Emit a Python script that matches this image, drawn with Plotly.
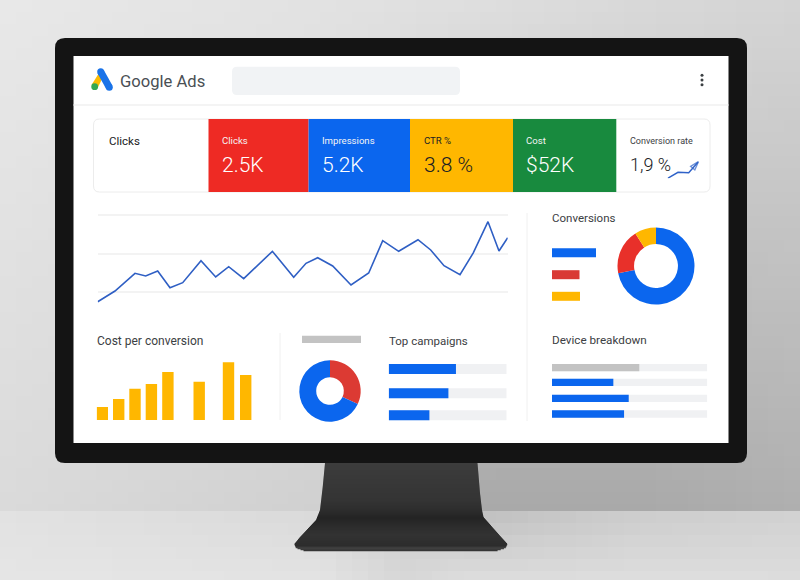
import plotly.graph_objects as go

W, H = 800, 580
FONT = "Roboto"
BLUE = "#0b66ee"
RED = "#e5312c"
YELLOW = "#ffb700"
GREEN = "#188a3e"
TRACK = "#f0f1f3"
GREY = "#c3c3c3"

# main line chart
line_x = [0, 17.3, 37.3, 48, 60, 72.3, 85, 103.3, 118, 131, 146, 174.7, 196, 208.3,
          220, 235, 253.3, 271, 285, 301, 320.3, 333, 346.3, 362.3, 375.7, 390.3, 401.3, 410]
line_y = [11.3, 22, 39.7, 37, 42, 25.3, 30.3, 52.3, 36, 46.3, 34.3, 61.7, 35.7, 49.7,
          55.3, 47, 28, 40, 72.3, 61.7, 73.3, 63, 47.3, 38.3, 60.3, 91.3, 62, 75.3]
line_ticks = [0, 21, 59, 98]

# cost per conversion
cost_x = [5.6, 22, 38.3, 54.7, 71.2, 102.5, 131.8, 149]
cost_y = [13, 21, 31.3, 36, 48, 38.3, 57.7, 45]

# donuts
conv_labels = ["Blue", "Red", "Yellow"]
conv_values = [72, 19, 9]
split_labels = ["Red", "Blue"]
split_values = [32, 68]

# horizontal bars
conv_rows = [7.7, 29.7, 51.3]
conv_bars = [44, 27.5, 28]
camp_rows = [9, 33.3, 55.3]
camp_values = [57, 50.6, 34.5]
device_rows = [7.7, 22.3, 38.3, 54]
device_values = [56.2, 39.5, 49.4, 46.4]

# conversion rate sparkline
spark_x = [0, 10.4, 21.1, 30.8]
spark_y = [0, 6, 5.6, 16.6]

# scorecards
card_labels = ["Clicks", "Impressions", "CTR %", "Cost"]
card_values = ["2.5K", "5.2K", "3.8 %", "$52K"]

# backdrop greys, (x, grey) stops on the rows they were picked from
wall_top = [(0, 232), (320, 226), (480, 222), (640, 216), (800, 212)]
wall_bottom = [(0, 218), (320, 208), (480, 168), (640, 168), (800, 175)]
desk_top = [(0, 226), (320, 218), (490, 194), (640, 206), (800, 210)]
desk_bottom = [(0, 230), (320, 228), (400, 216), (480, 224), (800, 222)]

# stand outline and shading, by height on the page
stand_left = [(463, 325), (487, 322.7), (510, 320), (520, 316), (537, 300), (544, 294.3), (548, 296), (551, 305)]
stand_right = [(463, 477.5), (493, 480), (510, 482), (517, 483.5), (532, 496.7), (544, 507.5), (548, 505.5), (551, 496)]
stand_grey = [(463, 60), (500, 52), (511, 44), (518, 35), (526, 44), (535, 50), (546, 44), (548, 66), (551, 50)]


def px(x):
    return x / W


def py(y):
    return 1 - y / H


def interp(stops, v):
    for (a, fa), (b, fb) in zip(stops, stops[1:]):
        if v <= b:
            return fa + (fb - fa) * (v - a) / (b - a)
    return stops[-1][1]


def grey(v):
    v = round(v)
    return f"rgb({v},{v},{v})"


def rect(x0, y0, x1, y1, color):
    return dict(type="rect", xref="paper", yref="paper", layer="below", x0=px(x0), x1=px(x1),
                y0=py(y0), y1=py(y1), fillcolor=color, line_width=0)


def rounded(x0, y0, x1, y1, r, fill, line=None):
    d = (f"M {px(x0 + r)} {py(y0)} L {px(x1 - r)} {py(y0)} Q {px(x1)} {py(y0)} {px(x1)} {py(y0 + r)} "
         f"L {px(x1)} {py(y1 - r)} Q {px(x1)} {py(y1)} {px(x1 - r)} {py(y1)} "
         f"L {px(x0 + r)} {py(y1)} Q {px(x0)} {py(y1)} {px(x0)} {py(y1 - r)} "
         f"L {px(x0)} {py(y0 + r)} Q {px(x0)} {py(y0)} {px(x0 + r)} {py(y0)} Z")
    return dict(type="path", xref="paper", yref="paper", layer="below", path=d, fillcolor=fill,
                line=dict(color=line or fill, width=1 if line else 0))


def poly(points, color):
    d = "M " + " L ".join(f"{px(x)} {py(y)}" for x, y in points) + " Z"
    return dict(type="path", xref="paper", yref="paper", layer="below", path=d, fillcolor=color, line_width=0)


def circle(cx, cy, r, color):
    return dict(type="circle", xref="paper", yref="paper", layer="below", x0=px(cx - r), x1=px(cx + r),
                y0=py(cy - r), y1=py(cy + r), fillcolor=color, line_width=0)


def seg(x0, y0, x1, y1, color, width=1):
    return dict(type="line", xref="paper", yref="paper", layer="below", x0=px(x0), x1=px(x1),
                y0=py(y0), y1=py(y1), line=dict(color=color, width=width))


def label(x, y, text, size, color="#3c4043", weight=400):
    return dict(xref="paper", yref="paper", x=px(x), y=py(y), text=text, showarrow=False, xanchor="left",
                yanchor="middle", xshift=-2, font=dict(family=FONT, size=size, color=color, weight=weight))


def backdrop():
    cells = []
    step_x, step_y = 16, 12
    for x in range(0, W, step_x):
        for y in range(0, 511, step_y):
            # hidden behind the monitor
            if x >= 56 and x + step_x <= 746 and y >= 39 and y + step_y <= 462:
                continue
            t = y / 511
            v = interp(wall_top, x + 8) * (1 - t) + interp(wall_bottom, x + 8) * t
            cells.append(rect(x, y, x + step_x + 0.5, min(y + step_y + 0.5, 511), grey(v)))
        for y in range(511, H, step_y):
            t = (y - 511) / 69
            v = interp(desk_top, x + 8) * (1 - t) + interp(desk_bottom, x + 8) * t
            cells.append(rect(x, y, x + step_x + 0.5, y + step_y + 0.5, grey(v)))
    return cells


def stand():
    slices = []
    for y in range(463, 551):
        slices.append(rect(interp(stand_left, y + 0.5), y, interp(stand_right, y + 0.5), y + 1.3,
                           grey(interp(stand_grey, y + 0.5))))
    return slices


fig = go.Figure()
axes = {}


def add_axes(n, x0, x1, y0, y1, xrange, yrange, **yopts):
    sfx = "" if n == 1 else str(n)
    axes["xaxis" + sfx] = dict(domain=[px(x0), px(x1)], range=xrange, visible=False, fixedrange=True,
                               anchor="y" + sfx)
    axes["yaxis" + sfx] = dict(domain=[py(y1), py(y0)], range=yrange, visible=False, fixedrange=True,
                               anchor="x" + sfx, **yopts)
    return "x" + sfx, "y" + sfx


def hbars(n, x0, x1, y0, y1, rows, values, colors, height, track=True):
    xa, ya = add_axes(n, x0, x1, y0, y1, [0, 100] if track else [0, x1 - x0], [y1 - y0, 0])
    if track:
        fig.add_trace(go.Bar(x=[100] * len(rows), y=rows, orientation="h", width=height, xaxis=xa, yaxis=ya,
                             marker=dict(color=TRACK, line_width=0)))
    fig.add_trace(go.Bar(x=values, y=rows, orientation="h", width=height, xaxis=xa, yaxis=ya,
                         marker=dict(color=colors, line_width=0)))


# line chart
xa, ya = add_axes(1, 97.7, 507.7, 210, 313, [0, 410], [0, 103])
axes["yaxis"].update(visible=True, showticklabels=False, showline=False, zeroline=False, ticks="",
                     tickvals=line_ticks, showgrid=True, gridcolor="#f3f3f3", gridwidth=1.5)
fig.add_trace(go.Scatter(x=line_x, y=line_y, mode="lines", xaxis=xa, yaxis=ya, cliponaxis=False,
                         line=dict(color="#2f5fc4", width=1.6)))

# cost bars
xa, ya = add_axes(2, 96.7, 252.4, 360, 420, [0, 155.7], [0, 60])
fig.add_trace(go.Bar(x=cost_x, y=cost_y, width=11.4, xaxis=xa, yaxis=ya, marker=dict(color=YELLOW, line_width=0)))

# horizontal bars
hbars(3, 552, 604, 245, 305, conv_rows, conv_bars, [BLUE, "#d93a35", YELLOW], 9, track=False)
hbars(4, 388.7, 506.7, 360, 421, camp_rows, camp_values, BLUE, 10)
hbars(5, 552, 707.3, 360, 421, device_rows, device_values, [GREY, BLUE, BLUE, BLUE], 7.3)

# sparkline in the conversion rate card
xa, ya = add_axes(6, 667.6, 698.4, 161.7, 178.3, [0, 30.8], [0, 16.6])
fig.add_trace(go.Scatter(x=spark_x, y=spark_y, mode="lines+markers", xaxis=xa, yaxis=ya, cliponaxis=False,
                         line=dict(color="#2f62c8", width=1.4),
                         marker=dict(symbol="arrow-open", angleref="previous", size=[0, 0, 0, 9], color="#2f62c8",
                                     line=dict(color="#2f62c8", width=1.4))))

# donuts
fig.add_trace(go.Pie(labels=conv_labels, values=conv_values, hole=0.57, sort=False, direction="clockwise", rotation=0,
                     textinfo="none", domain=dict(x=[px(617.5), px(694.5)], y=[py(304.5), py(227.5)]),
                     marker=dict(colors=[BLUE, "#e8302a", YELLOW], line_width=0)))
fig.add_trace(go.Pie(labels=split_labels, values=split_values, hole=0.45, sort=False, direction="clockwise", rotation=0,
                     textinfo="none", domain=dict(x=[px(299.3), px(360.7)], y=[py(421.7), py(360.3)]),
                     marker=dict(colors=["#dc3a33", BLUE], line_width=0)))

shapes = backdrop() + stand() + [
    # monitor
    rounded(55, 38, 747, 463, 10, "#141414"),
    rect(73.5, 56, 728.5, 443, "#ffffff"),
    # header
    seg(73.5, 105, 728.5, 105, "#f1f1f1", 1.5),
    rounded(232, 66.7, 460, 95, 5, "#f1f3f5"),
    circle(702, 75.2, 1.5, "#3c4043"),
    circle(702, 80, 1.5, "#3c4043"),
    circle(702, 84.7, 1.5, "#3c4043"),
    # logo
    poly([(99, 73), (102, 79), (97.6, 88), (91.5, 85)], "#fbbc04"),
    poly([(103.8, 70), (112.4, 85.6), (106.2, 89), (97.6, 73.4)], "#1a73e8"),
    circle(100.7, 71.7, 3.5, "#1a73e8"),
    circle(109.3, 87.3, 3.5, "#1a73e8"),
    circle(94.7, 86.7, 3.4, "#34a853"),
    # scorecards
    rounded(93.5, 119, 710, 192, 6, "#ffffff", "#ececec"),
    rect(208.5, 119, 308.6, 192, "#ee2a24"),
    rect(308.6, 119, 410, 192, BLUE),
    rect(410, 119, 513, 192, YELLOW),
    rect(513, 119, 616.3, 192, GREEN),
    # dividers and placeholder
    seg(527, 213, 527, 421, "#f0f0f0", 1),
    seg(280, 333, 280, 420, "#f0f0f0", 1),
    rect(302, 335.7, 361, 343, GREY),
]

annotations = [
    label(120, 81, "Google Ads", 16.6, "#4a4f54"),
    label(109, 141, "Clicks", 11.5, "#202124"),
    label(630, 141, "Conversion rate", 9, "#3c4043"),
    label(630, 164.5, "1,9 %", 18, "#202124", 300),
    label(97, 340.5, "Cost per conversion", 12, "#3c4043"),
    label(388.5, 340.5, "Top campaigns", 11.5, "#3c4043"),
    label(552, 218.5, "Conversions", 11.5, "#3c4043"),
    label(552, 339.5, "Device breakdown", 11.7, "#3c4043"),
]
for i, x in enumerate([221.5, 322, 423.5, 525.5]):
    dark = card_labels[i] == "CTR %"
    annotations.append(label(x, 140.5, card_labels[i], 9.6, "#202124" if dark else "#f4f4f4"))
    annotations.append(label(x, 165, card_values[i], 21, "#202124" if dark else "#ffffff", 300))

fig.update_layout(
    width=W, height=H, margin=dict(l=0, r=0, t=0, b=0), showlegend=False, barmode="overlay",
    paper_bgcolor="#dfdfdf", plot_bgcolor="rgba(0,0,0,0)", shapes=shapes, annotations=annotations,
    font=dict(family=FONT), **axes,
)

fig.write_html("out.html", config={"displayModeBar": False, "staticPlot": True},
               post_script="document.body.style.margin='0';document.body.style.overflow='hidden';")
